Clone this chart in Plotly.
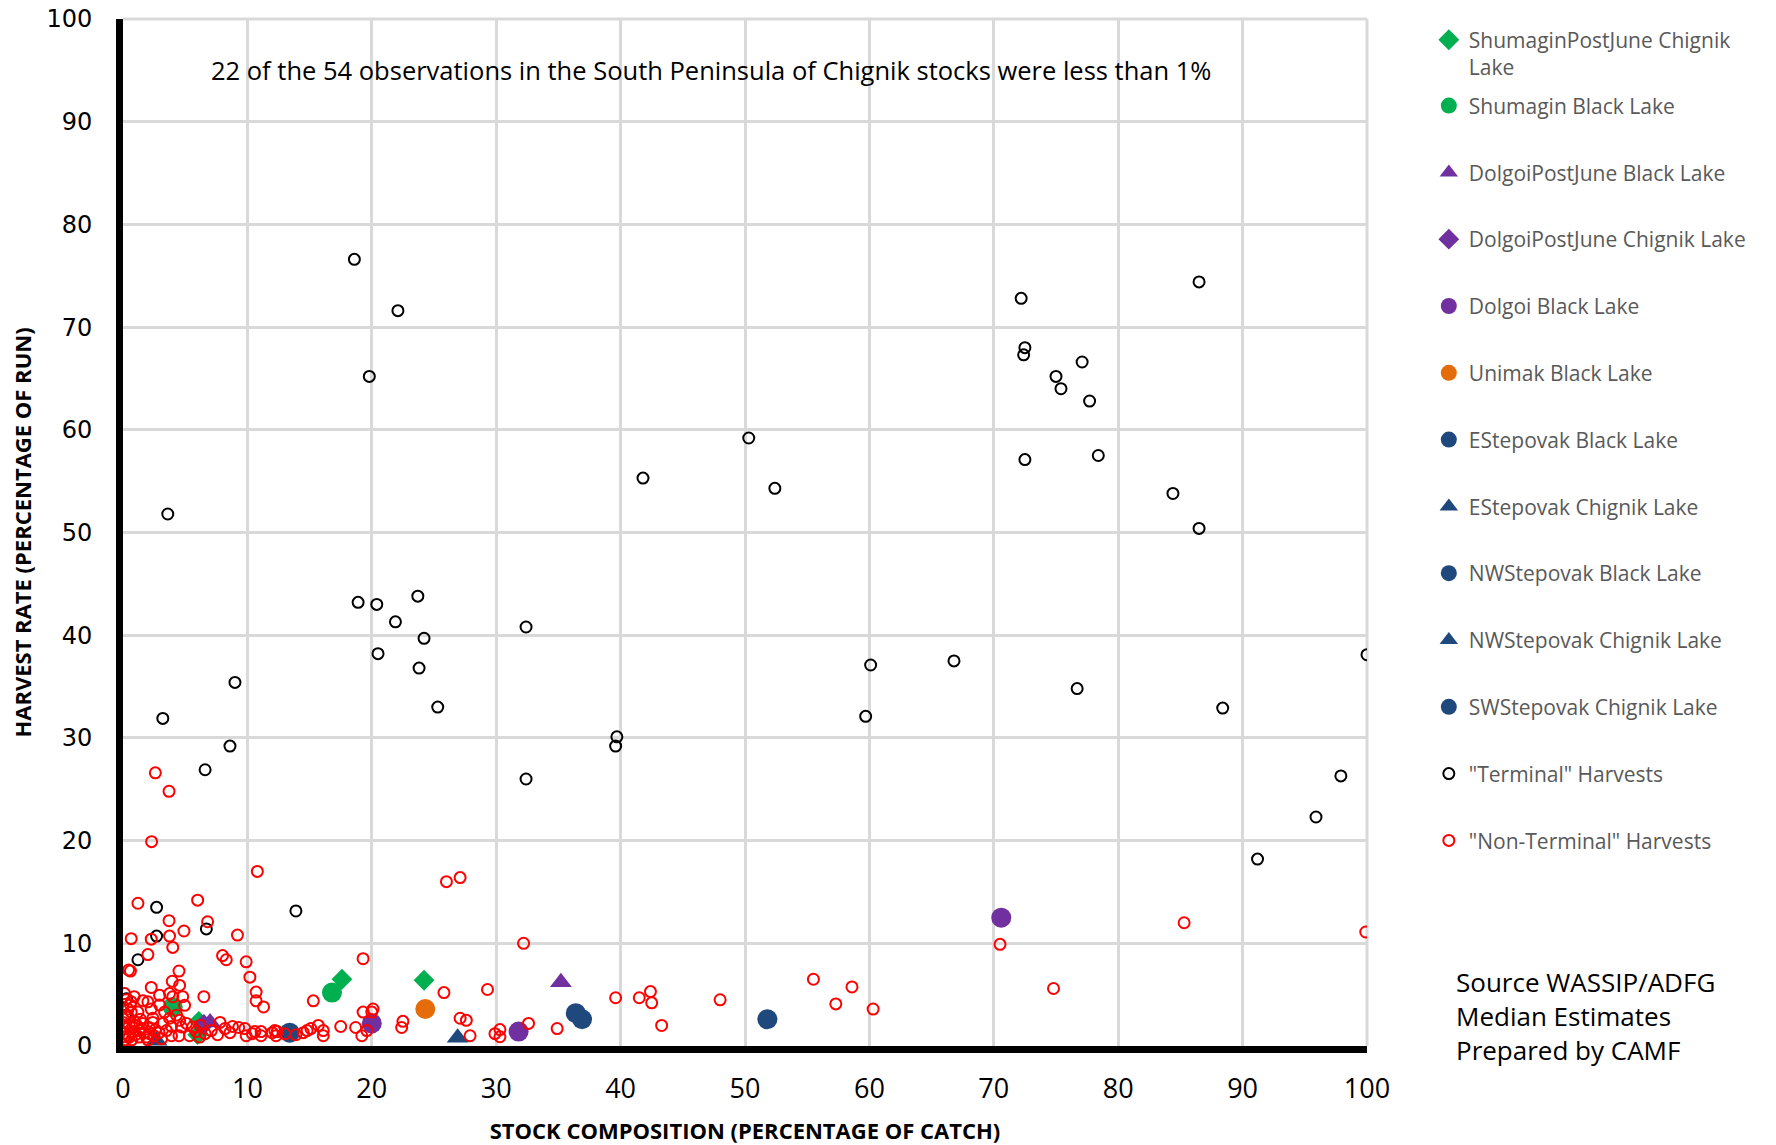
import plotly.graph_objects as go

# ---------------- data ----------------
shumagin_pj_chignik_x = [6.1, 6.0, 17.6, 24.2]
shumagin_pj_chignik_y = [2.4, 1.1, 6.5, 6.4]
shumagin_black_x = [4.0, 16.8]
shumagin_black_y = [3.8, 5.2]
dolgoi_pj_black_x = [7.0, 35.2]
dolgoi_pj_black_y = [2.3, 6.2]
dolgoi_pj_chignik_x = [6.5]
dolgoi_pj_chignik_y = [2.1]
dolgoi_black_x = [20.0, 31.8, 70.6]
dolgoi_black_y = [2.2, 1.4, 12.5]
unimak_black_x = [24.3]
unimak_black_y = [3.6]
estepovak_black_x = [13.4, 36.4]
estepovak_black_y = [1.3, 3.2]
estepovak_chignik_x = [26.9]
estepovak_chignik_y = [0.8]
nwstepovak_black_x = [36.9]
nwstepovak_black_y = [2.6]
nwstepovak_chignik_x = [2.7]
nwstepovak_chignik_y = [0.5]
swstepovak_chignik_x = [51.8]
swstepovak_chignik_y = [2.6]

terminal_x = [18.6, 22.1, 19.8, 41.8, 50.3, 52.4, 3.6, 18.9, 20.4, 23.7, 21.9, 24.2,
              20.5, 23.8, 25.3, 32.4, 9.0, 3.2, 8.6, 6.6, 39.7, 39.6, 32.4, 2.7, 13.9,
              6.7, 2.7, 1.2, 60.1, 59.7, 66.8, 72.2, 72.5, 72.4, 72.5, 75.0, 75.4, 77.1,
              77.7, 78.4, 76.7, 84.4, 86.5, 86.5, 88.4, 100.0, 97.9, 95.9, 91.2, 0.3, 0.2]
terminal_y = [76.6, 71.6, 65.2, 55.3, 59.2, 54.3, 51.8, 43.2, 43.0, 43.8, 41.3, 39.7,
              38.2, 36.8, 33.0, 40.8, 35.4, 31.9, 29.2, 26.9, 30.1, 29.2, 26.0, 13.5, 13.15,
              11.4, 10.7, 8.4, 37.1, 32.1, 37.5, 72.8, 68.0, 67.3, 57.1, 65.2, 64.0, 66.6,
              62.8, 57.5, 34.8, 53.8, 74.4, 50.4, 32.9, 38.1, 26.3, 22.3, 18.2, 4.6, 3.0]

nonterminal_x = [2.6, 3.7, 2.3, 10.8, 6.0, 1.2, 27.1, 26.0, 3.7, 6.8, 4.9, 0.66, 2.27, 3.74,
                 9.2, 19.3, 32.2, 4.0, 2.0, 8.0, 8.3, 9.9, 0.45, 0.6, 4.5, 10.2, 3.96, 2.27,
                 4.55, 6.5, 0.13, 0.26, 0.66, 2.94, 3.74, 4.0, 4.8, 4.95, 10.7, 10.7, 11.3,
                 2.0, 2.27, 2.94, 0.66, 1.2, 2.4, 3.34, 3.74, 4.3, 4.55, 0.0, 0.4, 1.6, 3.2,
                 4.7, 5.1, 5.6, 6.2, 7.8, 8.2, 8.8, 9.8, 9.9, 10.6, 11.1, 12.2, 3.9, 4.5,
                 5.35, 6.16, 0.13, 0.8, 1.5, 2.14, 0.5, 1.3, 1.87, 2.5, 0.0, 0.13,
                 10.4, 11.1, 12.0, 12.4, 12.3, 15.3, 14.5, 14.8, 15.1, 15.7, 16.1, 16.1,
                 17.5, 18.7, 19.2, 19.6, 19.3, 20.1, 20.0, 22.5, 22.4, 25.8, 29.3, 27.1,
                 27.6, 27.9, 29.9, 30.3, 30.3, 32.6, 34.9, 39.6, 41.5, 42.4, 42.5, 43.3,
                 48.0, 55.5, 58.6, 57.3, 60.3, 70.5, 74.8, 85.3, 99.9,
                 0.2, 0.4, 0.7, 1.0, 1.1, 1.4, 0.9, 0.3, 1.7, 2.1, 2.6, 2.9, 3.1, 3.5, 3.9,
                 0.5, 0.8, 1.3, 2.0, 2.4, 0.1, 0.6, 1.6, 0.9, 0.4, 5.9, 7.1, 7.6, 6.6, 8.6,
                 9.3, 13.0, 13.9]
nonterminal_y = [26.6, 24.8, 19.9, 17.0, 14.2, 13.9, 16.4, 16.0, 12.2, 12.1, 11.2, 10.45, 10.4, 10.7,
                 10.8, 8.5, 10.0, 9.6, 8.9, 8.8, 8.4, 8.2, 7.4, 7.3, 7.3, 6.7, 6.3, 5.7,
                 5.9, 4.8, 5.1, 4.5, 4.3, 4.93, 5.1, 4.8, 4.8, 3.96, 5.25, 4.4, 3.8,
                 4.3, 3.6, 4.0, 3.3, 3.3, 2.7, 3.3, 2.7, 3.0, 2.5, 2.3, 2.8, 2.2, 2.2,
                 1.85, 2.2, 1.85, 2.0, 2.3, 1.7, 1.9, 1.7, 1.0, 1.4, 1.0, 1.5, 1.0, 1.0,
                 1.0, 0.87, 1.7, 1.4, 1.7, 1.2, 0.87, 0.87, 0.87, 1.0, 3.8, 1.2,
                 1.2, 1.4, 1.3, 1.4, 1.0, 4.4, 1.3, 1.5, 1.7, 2.0, 1.5, 1.0,
                 1.9, 1.8, 1.0, 1.5, 3.3, 3.6, 3.3, 2.4, 1.8, 5.2, 5.5, 2.7,
                 2.5, 1.0, 1.2, 1.6, 0.9, 2.2, 1.7, 4.7, 4.7, 5.3, 4.2, 2.0,
                 4.5, 6.5, 5.75, 4.1, 3.6, 9.9, 5.6, 12.0, 11.1,
                 0.6, 1.0, 0.6, 1.1, 2.0, 2.6, 2.4, 3.0, 1.3, 1.8, 1.6, 1.3, 0.7, 1.5, 1.9,
                 2.0, 1.8, 1.5, 0.6, 2.3, 0.9, 4.0, 4.4, 4.8, 3.6, 1.4, 1.5, 1.1, 1.2, 1.3,
                 1.8, 1.2, 1.1]

x_ticks = [0, 10, 20, 30, 40, 50, 60, 70, 80, 90, 100]
y_ticks = [0, 10, 20, 30, 40, 50, 60, 70, 80, 90, 100]

GREEN = "#00B050"
PURPLE = "#7030A0"
ORANGE = "#E46C0A"
BLUE = "#1F497D"
GRID = "#D9D9D9"

fig = go.Figure()

def add(name, xs, ys, symbol, color, size, legend="legend2"):
    fig.add_trace(go.Scatter(
        x=xs, y=ys, mode="markers", name=name, legendgroup=name, legend=legend,
        marker=dict(symbol=symbol, color=color, size=size,
                    line=dict(width=2 if "open" in symbol else 0, color=color)),
    ))

add("ShumaginPostJune Chignik<br>Lake", shumagin_pj_chignik_x, shumagin_pj_chignik_y, "diamond", GREEN, 16, legend="legend")
add("Shumagin Black Lake", shumagin_black_x, shumagin_black_y, "circle", GREEN, 20)
add("DolgoiPostJune Black Lake", dolgoi_pj_black_x, dolgoi_pj_black_y, "triangle-up", PURPLE, 19)
add("DolgoiPostJune Chignik Lake", dolgoi_pj_chignik_x, dolgoi_pj_chignik_y, "diamond", PURPLE, 16)
add("Dolgoi Black Lake", dolgoi_black_x, dolgoi_black_y, "circle", PURPLE, 20)
add("Unimak Black Lake", unimak_black_x, unimak_black_y, "circle", ORANGE, 20)
add("EStepovak Black Lake", estepovak_black_x, estepovak_black_y, "circle", BLUE, 20)
add("EStepovak Chignik Lake", estepovak_chignik_x, estepovak_chignik_y, "triangle-up", BLUE, 19)
add("NWStepovak Black Lake", nwstepovak_black_x, nwstepovak_black_y, "circle", BLUE, 20)
add("NWStepovak Chignik Lake", nwstepovak_chignik_x, nwstepovak_chignik_y, "triangle-up", BLUE, 19)
add("SWStepovak Chignik Lake", swstepovak_chignik_x, swstepovak_chignik_y, "circle", BLUE, 20)
add('"Terminal" Harvests', terminal_x, terminal_y, "circle-open", "#000000", 11)
add('"Non-Terminal" Harvests', nonterminal_x, nonterminal_y, "circle-open", "#FF0000", 11)

legend_font = dict(family="Open Sans, Noto Sans, sans-serif", size=21, color="#595959")

fig.update_layout(
    width=1776, height=1145,
    margin=dict(l=123, r=409, t=19, b=99),
    paper_bgcolor="white", plot_bgcolor="white",
    showlegend=True,
    legend=dict(x=1.0497, y=0.9994, xanchor="left", yanchor="top", font=legend_font,
                valign="top", bgcolor="rgba(0,0,0,0)", itemsizing="trace"),
    legend2=dict(x=1.0497, y=0.9353, xanchor="left", yanchor="top", font=legend_font,
                 tracegroupgap=36.5, bgcolor="rgba(0,0,0,0)", itemsizing="trace"),
    xaxis=dict(range=[0, 100], tickvals=x_ticks, ticktext=[str(v) for v in x_ticks],
               automargin=False,
               showgrid=True, gridcolor=GRID, gridwidth=3,
               showline=True, linecolor="black", linewidth=7,
               zeroline=False, ticks="", ticklabelstandoff=13,
               tickfont=dict(family="Liberation Sans Narrow, Arial Narrow, Open Sans", size=27, color="black"),
               title=dict(text="<b>STOCK COMPOSITION (PERCENTAGE OF CATCH)</b>",
                          font=dict(family="Liberation Sans Narrow, Arial Narrow, Open Sans", size=22, color="black"),
                          standoff=21)),
    yaxis=dict(range=[0, 100], tickvals=y_ticks, ticktext=[str(v) for v in y_ticks],
               automargin=False, ticklabeloverflow="allow",
               showgrid=True, gridcolor=GRID, gridwidth=3,
               showline=True, linecolor="black", linewidth=7,
               zeroline=False, ticks="", ticklabelstandoff=19,
               tickfont=dict(family="DejaVu Sans, sans-serif", size=24, color="black"),
               title=dict(text="<b>HARVEST RATE (PERCENTAGE OF RUN)</b>",
                          font=dict(family="Liberation Sans Narrow, Arial Narrow, Open Sans", size=22, color="black"),
                          standoff=11)),
    shapes=[
        dict(type="line", xref="paper", yref="paper", x0=0, x1=1, y0=1, y1=1,
             line=dict(color=GRID, width=3), layer="below"),
        dict(type="line", xref="paper", yref="paper", x0=1, x1=1, y0=0, y1=1,
             line=dict(color=GRID, width=3), layer="below"),
    ],
    annotations=[
        dict(text="22 of the 54 observations in the South Peninsula of Chignik stocks were less than 1%",
             xref="paper", yref="paper", x=0.4727, y=0.95, xanchor="center", yanchor="middle",
             showarrow=False, font=dict(family="Open Sans, sans-serif", size=25.5, color="black")),
        dict(text="Source WASSIP/ADFG<br>Median Estimates<br>Prepared by CAMF",
             xref="paper", yref="paper", x=1.070, y=0.029, xanchor="left", yanchor="middle", align="left",
             showarrow=False, font=dict(family="Open Sans, sans-serif", size=26, color="black")),
    ],
)

fig.write_html("out.html", config={"displayModeBar": False},
               post_script="document.body.style.margin='0px';document.body.style.overflow='hidden';")
